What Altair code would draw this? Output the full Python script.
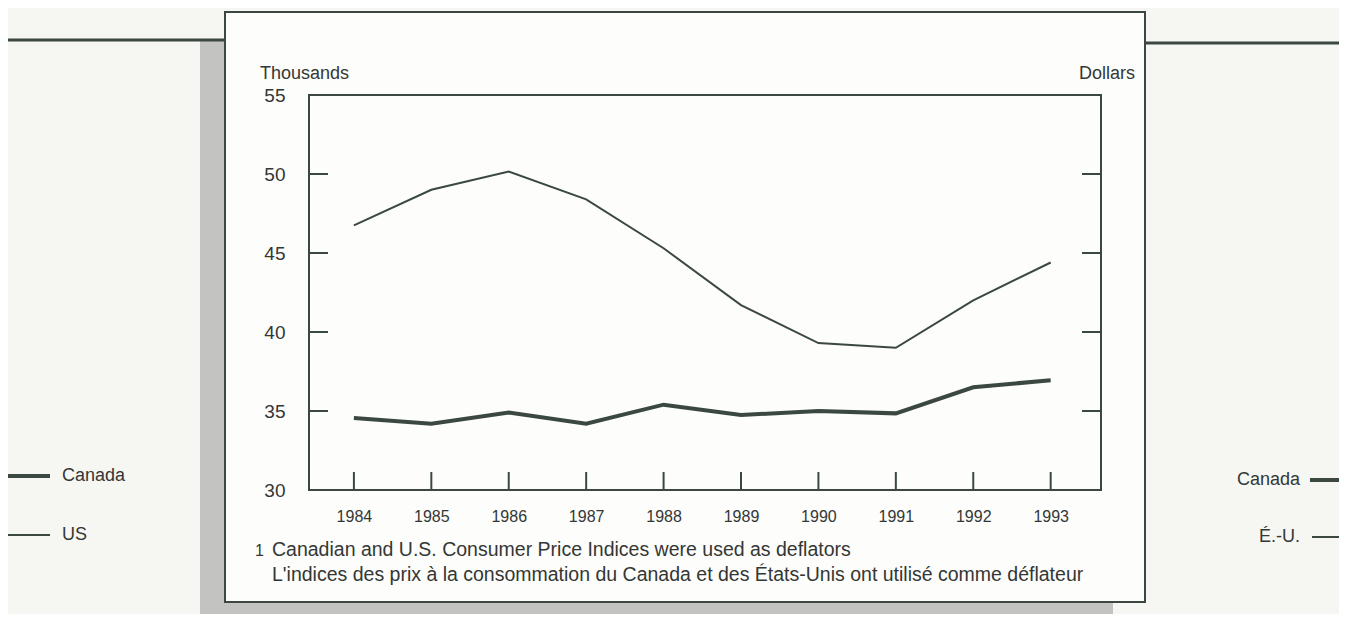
import altair as alt
import pandas as pd

# ---- data ----
years = [1984, 1985, 1986, 1987, 1988, 1989, 1990, 1991, 1992, 1993]
canada = [34.55, 34.2, 34.9, 34.2, 35.4, 34.75, 35.0, 34.85, 36.5, 36.95]
us = [46.75, 49.0, 50.15, 48.4, 45.3, 41.7, 39.3, 39.0, 42.0, 44.4]
series_names = ["Canada", "US"]
series_names_fr = ["Canada", "É.-U."]
y_ticks = [30, 35, 40, 45, 50, 55]
y_title_left = "Thousands"
y_title_right = "Dollars"
footnote_num = "1"
footnote_en = "Canadian and U.S. Consumer Price Indices were used as deflators"
footnote_fr = "L'indices des prix à la consommation du Canada et des États-Unis ont utilisé comme déflateur"

# ---- layout (pixels) ----
W, H = 792, 395           # plot area
PAD_L, PAD_T = 301, 87    # plot origin at page (309, 95)
PAD_R, PAD_B = 238, 124
OX, OY = 8 + PAD_L, 8 + PAD_T

INK = "#3b4842"
TEXT = "#333735"
FONT = "Liberation Sans"

df = pd.DataFrame({
    "year": years * 2,
    "value": canada + us,
    "series": [series_names[0]] * len(years) + [series_names[1]] * len(years),
})
dummy = pd.DataFrame({"k": [0]})


def px(x):
    return x - OX


def py(y):
    return y - OY


def rect(x1, y1, x2, y2, fill, stroke=None, sw=0):
    kw = dict(fill=fill)
    if stroke:
        kw.update(stroke=stroke, strokeWidth=sw)
    return alt.Chart(dummy).mark_rect(**kw).encode(
        x=alt.value(px(x1)), x2=alt.value(px(x2)),
        y=alt.value(py(y1)), y2=alt.value(py(y2)))


def hline(x1, x2, y, sw, color=INK):
    return alt.Chart(dummy).mark_rule(color=color, strokeWidth=sw).encode(
        x=alt.value(px(x1)), x2=alt.value(px(x2)), y=alt.value(py(y)))


def text(t, x, y, size, align="left", baseline="alphabetic"):
    return alt.Chart(pd.DataFrame({"t": [t]})).mark_text(
        align=align, baseline=baseline, fontSize=size, font=FONT, color=TEXT
    ).encode(x=alt.value(px(x)), y=alt.value(py(y)), text="t:N")


xscale = alt.Scale(domain=[1983.42, 1993.65], nice=False, zero=False)
yscale = alt.Scale(domain=[30, 55], nice=False, zero=False)
xaxis = alt.Axis(values=years, format="d", tickSize=0, domain=False, grid=False,
                 labelPadding=18, labelFontSize=16, labelFont=FONT,
                 labelColor=TEXT, title=None, zindex=2)
yaxis = alt.Axis(values=y_ticks, tickSize=0, domain=False, grid=False,
                 labelPadding=24, labelFontSize=19, labelFont=FONT,
                 labelColor=TEXT, title=None, zindex=2)

# decorations
shadow_left = rect(200, 40, 225, 640, "#c3c3c1")
shadow_bottom = rect(200, 602, 1113, 640, "#c3c3c1")
box = rect(225, 12, 1145, 602, "#fdfdfb", INK, 2)
line_left = hline(0, 225, 40, 3)
line_right = hline(1145, 1360, 43, 3)

frame = alt.Chart(dummy).mark_rect(fillOpacity=0, stroke=INK, strokeWidth=2).encode(
    x=alt.value(0), x2=alt.value(W), y=alt.value(0), y2=alt.value(H))

lines = alt.Chart(df).mark_line(color=INK).encode(
    x=alt.X("year:Q", scale=xscale, axis=xaxis),
    y=alt.Y("value:Q", scale=yscale, axis=yaxis),
    detail="series:N",
    strokeWidth=alt.StrokeWidth("series:N", scale=alt.Scale(domain=series_names, range=[4, 2]),
                                legend=None),
)

xticks = alt.Chart(pd.DataFrame({"year": years})).mark_rule(color=INK, strokeWidth=2).encode(
    x=alt.X("year:Q", scale=xscale, axis=xaxis), y=alt.value(H), y2=alt.value(H - 18))

inner_y = pd.DataFrame({"value": y_ticks[1:-1]})
yticks_l = alt.Chart(inner_y).mark_rule(color=INK, strokeWidth=2).encode(
    y=alt.Y("value:Q", scale=yscale, axis=yaxis), x=alt.value(0), x2=alt.value(19))
yticks_r = alt.Chart(inner_y).mark_rule(color=INK, strokeWidth=2).encode(
    y=alt.Y("value:Q", scale=yscale, axis=yaxis), x=alt.value(W - 19), x2=alt.value(W))

texts = [
    text(y_title_left, 260, 79, 18),
    text(y_title_right, 1135, 79, 18, align="right"),
    text(footnote_num, 255, 556, 16),
    text(footnote_en, 272, 556, 19.5),
    text(footnote_fr, 272, 581, 19.5),
    # legends
    hline(8, 50, 476, 4),
    text(series_names[0], 62, 476, 18, baseline="middle"),
    hline(8, 50, 535, 2),
    text(series_names[1], 62, 535, 18, baseline="middle"),
    text(series_names_fr[0], 1300, 480, 18, align="right", baseline="middle"),
    hline(1310, 1360, 480, 4),
    text(series_names_fr[1], 1300, 537, 18, align="right", baseline="middle"),
    hline(1312, 1360, 537, 2),
]

chart = alt.layer(
    shadow_left, shadow_bottom, box, line_left, line_right, frame,
    lines, xticks, yticks_l, yticks_r, *texts
).properties(
    width=W, height=H,
    autosize=alt.AutoSizeParams(type="none"),
    padding={"left": PAD_L, "top": PAD_T, "right": PAD_R, "bottom": PAD_B},
).configure(background="#f6f6f3").configure_view(stroke=None)

chart.save("out.html", embed_options={"renderer": "svg", "actions": False})
